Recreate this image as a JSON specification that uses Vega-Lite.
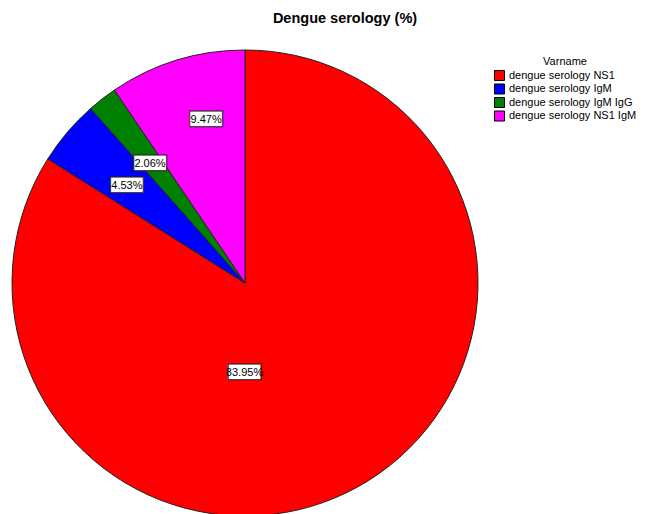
{
  "$schema": "https://vega.github.io/schema/vega-lite/v6.json",
  "autosize": "none",
  "width": 490,
  "height": 466,
  "padding": {"left": 0, "top": 50, "right": 177, "bottom": 0},
  "background": "white",
  "config": {"view": {"stroke": null}, "font": "Liberation Sans"},
  "title": {
    "text": "Dengue serology (%)",
    "font": "Liberation Sans",
    "fontSize": 14.5,
    "fontWeight": "bold",
    "color": "black",
    "anchor": "middle",
    "dx": 100,
    "offset": 22
  },
  "data": {
    "values": [
      {"Varname": "dengue serology NS1", "Value": 83.95, "Label": "83.95%", "rank": 1},
      {"Varname": " dengue serology IgM", "Value": 4.53, "Label": "4.53%", "rank": 2},
      {"Varname": " dengue serology IgM IgG", "Value": 2.06, "Label": "2.06%", "rank": 3},
      {"Varname": " dengue serology NS1 IgM", "Value": 9.47, "Label": "9.47%", "rank": 4}
    ]
  },
  "encoding": {
    "theta": {"field": "Value", "type": "quantitative", "stack": true},
    "order": {"field": "rank", "type": "ordinal"}
  },
  "layer": [
    {
      "mark": {"type": "arc", "radius": 233, "stroke": "#222222", "strokeWidth": 1},
      "encoding": {
        "color": {
          "field": "Varname",
          "type": "nominal",
          "sort": ["dengue serology NS1", " dengue serology IgM", " dengue serology IgM IgG", " dengue serology NS1 IgM"],
          "scale": {
            "domain": ["dengue serology NS1", " dengue serology IgM", " dengue serology IgM IgG", " dengue serology NS1 IgM"],
            "range": ["#FF0000", "#0000FF", "#008000", "#FF00FF"]
          },
          "legend": {
            "title": "Varname",
            "orient": "none",
            "legendX": 494,
            "legendY": 6,
            "symbolType": "square",
            "symbolSize": 100,
            "symbolStrokeColor": "black",
            "symbolStrokeWidth": 1,
            "symbolOpacity": 1,
            "labelFont": "Liberation Sans",
            "labelFontSize": 11,
            "labelColor": "black",
            "labelOffset": 4,
            "labelLimit": 300,
            "rowPadding": -1.5,
            "titleFont": "Liberation Sans",
            "titleFontSize": 11,
            "titleFontWeight": "normal",
            "titleColor": "black",
            "titleAnchor": "middle",
            "titlePadding": 3
          }
        }
      }
    },
    {
      "mark": {"type": "text", "font": "DejaVu Sans", "fontSize": 43, "fill": "white", "stroke": "#222222", "strokeWidth": 1, "baseline": "alphabetic", "align": "center", "dy": 12, "radius": 88, "thetaOffset": 0.51},
      "encoding": {"text": {"condition": {"test": "datum.rank == 1", "value": "▬"}, "value": ""}}
    },
    {
      "mark": {"type": "text", "font": "Liberation Sans", "fontSize": 11, "color": "black", "baseline": "middle", "align": "center", "dy": 2, "radius": 88, "thetaOffset": 0.51},
      "encoding": {"text": {"condition": {"test": "datum.rank == 1", "field": "Label"}, "value": ""}}
    },
    {
      "mark": {"type": "text", "font": "DejaVu Sans", "fontSize": 43, "fill": "white", "stroke": "#222222", "strokeWidth": 1, "baseline": "alphabetic", "align": "center", "dy": 13, "radius": 155},
      "encoding": {"text": {"condition": {"test": "datum.rank == 2 || datum.rank == 3", "value": "▬"}, "value": ""}}
    },
    {
      "mark": {"type": "text", "font": "Liberation Sans", "fontSize": 11, "color": "black", "baseline": "middle", "align": "center", "dy": 3, "radius": 155},
      "encoding": {"text": {"condition": {"test": "datum.rank == 2 || datum.rank == 3", "field": "Label"}, "value": ""}}
    },
    {
      "mark": {"type": "text", "font": "DejaVu Sans", "fontSize": 43, "fill": "white", "stroke": "#222222", "strokeWidth": 1, "baseline": "alphabetic", "align": "center", "dy": 13, "radius": 170, "thetaOffset": 0.067},
      "encoding": {"text": {"condition": {"test": "datum.rank == 4", "value": "▬"}, "value": ""}}
    },
    {
      "mark": {"type": "text", "font": "Liberation Sans", "fontSize": 11, "color": "black", "baseline": "middle", "align": "center", "dy": 3, "radius": 170, "thetaOffset": 0.067},
      "encoding": {"text": {"condition": {"test": "datum.rank == 4", "field": "Label"}, "value": ""}}
    }
  ]
}
